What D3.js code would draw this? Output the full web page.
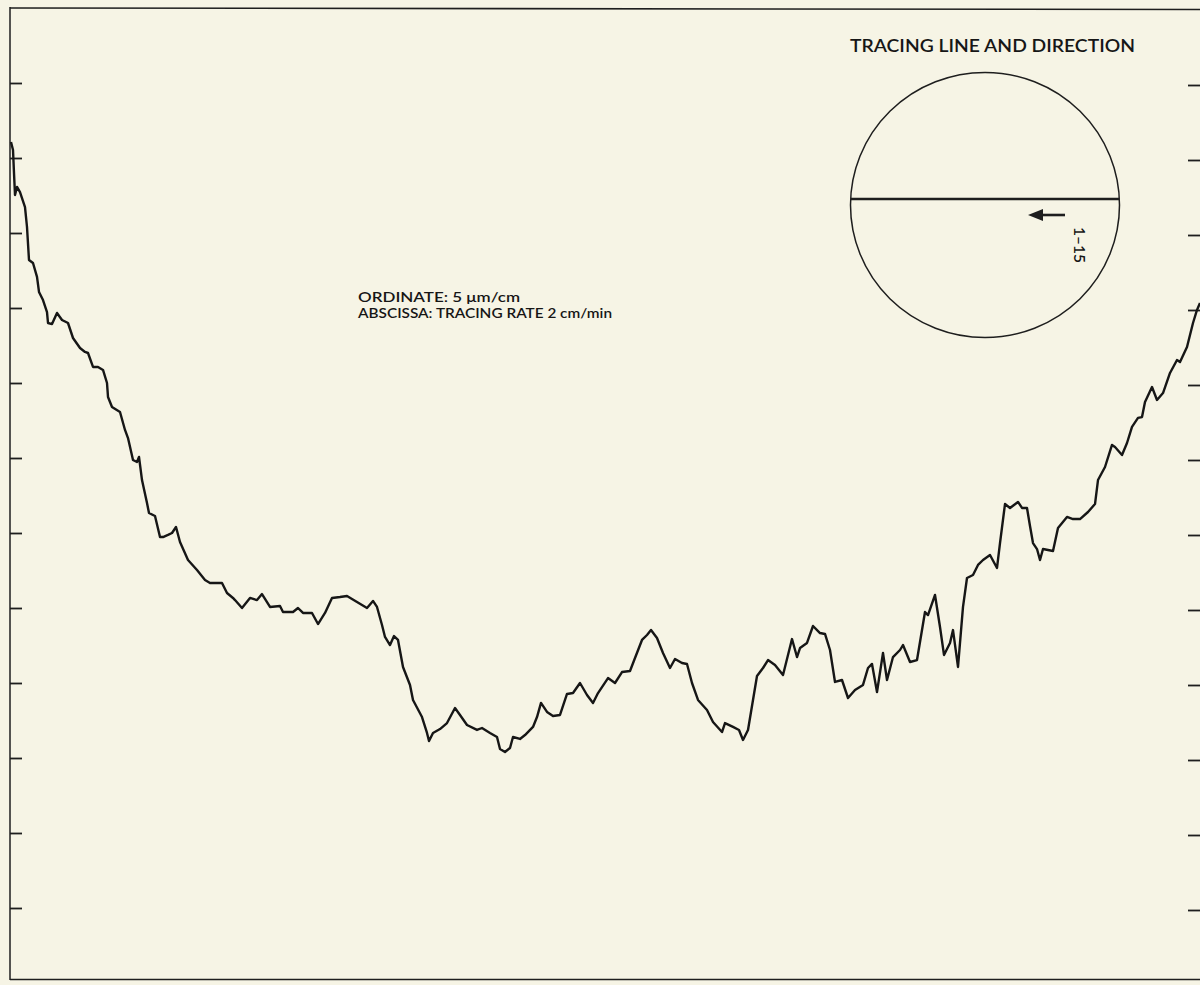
<!DOCTYPE html>
<html lang="en">
  <head>
    <meta charset="UTF-8" />
    <title>Surface trace 1-15</title>
    <script src="https://d3js.org/d3.v7.min.js"></script>
    <style>
      body {
        margin: 0;
        background-color: #f6f4e5;
      }
      svg {
        display: block;
        background-color: #f6f4e5;
      }
      .label {
        font-family: Lato, "Open Sans", sans-serif;
        font-weight: 600;
        fill: #161616;
      }
    </style>
  </head>
  <body>
    <svg width="1200" height="985"></svg>

    <script>
      const width = 1200;
      const height = 985;

      // trace position (s) and height (um)
      const traceT = [
        0.1, 0.3, 0.4, 0.5, 0.7, 1.0, 1.5, 1.7, 1.9, 2.3, 2.7, 2.9, 3.3, 3.7, 3.8, 4.2, 4.7, 5.2, 5.8, 6.3,
        7.0, 7.5, 7.8, 8.3, 8.8, 9.3, 9.7, 9.8, 10.2, 11.0, 11.5, 11.8, 12.3, 12.7, 12.9, 13.2, 13.7, 13.9, 14.5, 15.0,
        15.3, 15.8, 16.2, 16.6, 17.0, 17.8, 18.7, 19.5, 20.0, 21.2, 21.7, 22.3, 22.5, 23.2, 24.0, 24.7, 25.2, 26.0, 27.0, 27.3,
        28.3, 28.8, 29.3, 30.2, 30.8, 31.5, 32.2, 33.0, 33.7, 34.7, 35.7, 36.3, 36.7, 37.2, 37.5, 38.0, 38.4, 38.8, 39.3, 40.0,
        40.3, 41.2, 41.7, 41.9, 42.3, 43.0, 43.7, 44.5, 45.0, 45.7, 46.7, 47.2, 48.0, 48.7, 49.0, 49.5, 50.0, 50.3, 51.0, 51.5,
        52.3, 52.7, 53.1, 53.7, 54.3, 55.0, 55.7, 56.3, 57.0, 57.7, 58.3, 58.8, 59.8, 60.5, 61.2, 62.0, 62.5, 63.2, 63.7, 64.1,
        64.7, 65.3, 66.0, 66.5, 67.2, 67.7, 68.2, 68.8, 69.7, 70.3, 71.2, 71.5, 72.3, 72.9, 73.3, 73.8, 74.7, 75.3, 75.8, 76.5,
        77.3, 78.2, 78.7, 79.0, 79.7, 80.3, 81.0, 81.5, 82.0, 82.5, 83.2, 83.8, 84.5, 85.3, 85.8, 86.2, 86.7, 87.3, 87.7, 88.3,
        89.0, 89.3, 90.0, 90.7, 91.5, 91.8, 92.5, 93.0, 93.4, 94.0, 94.3, 94.8, 95.3, 95.7, 96.3, 96.8, 97.3, 98.0, 98.7, 99.0,
        99.5, 100.0, 100.8, 101.2, 101.7, 102.0, 102.3, 102.7, 103.0, 103.3, 104.3, 104.8, 105.7, 106.3, 107.0, 107.8, 108.5, 108.8, 109.5, 110.2,
        110.5, 111.2, 111.7, 112.2, 112.8, 113.2, 113.5, 114.2, 114.7, 115.3, 116.0, 116.7, 117.0, 117.7, 118.0, 118.3, 118.7, 119.0
      ];
      const traceUm = [
        56.07, 55.53, 54.0, 52.53, 53.07, 52.73, 51.73, 50.4, 48.2, 48.0, 47.07, 46.07, 45.53, 44.73, 44.0, 43.93, 44.67, 44.2, 44.0, 43.0,
        42.33, 42.07, 42.0, 41.07, 41.07, 40.87, 40.0, 39.07, 38.4, 38.07, 36.87, 36.33, 34.87, 34.73, 35.07, 33.53, 32.0, 31.33, 31.13, 29.73,
        29.73, 29.87, 30.0, 30.4, 29.4, 28.2, 27.53, 26.87, 26.67, 26.67, 26.0, 25.67, 25.53, 25.0, 25.67, 25.53, 25.93, 25.07, 25.13, 24.73,
        24.73, 25.0, 24.67, 24.67, 23.93, 24.67, 25.67, 25.73, 25.8, 25.4, 25.0, 25.47, 25.07, 23.87, 23.07, 22.53, 23.13, 22.87, 21.07, 19.87,
        18.87, 17.73, 16.67, 16.13, 16.67, 16.93, 17.33, 18.33, 17.87, 17.2, 16.87, 17.0, 16.67, 16.4, 15.6, 15.4, 15.67, 16.4, 16.27, 16.53,
        17.07, 17.73, 18.67, 18.07, 17.8, 17.87, 19.27, 19.33, 20.0, 19.2, 18.67, 19.33, 20.33, 20.0, 20.73, 20.8, 21.67, 22.87, 23.2, 23.53,
        23.0, 22.0, 21.0, 21.6, 21.33, 21.27, 20.0, 18.87, 18.2, 17.4, 16.73, 17.33, 17.07, 16.87, 16.2, 16.87, 20.47, 21.0, 21.53, 21.2,
        20.53, 22.93, 21.73, 22.33, 22.67, 23.8, 23.33, 23.27, 22.2, 20.07, 20.2, 19.0, 19.53, 19.87, 21.0, 21.27, 19.4, 22.0, 20.2, 21.73,
        22.2, 22.53, 21.4, 21.53, 24.73, 24.53, 25.87, 23.73, 21.87, 22.67, 23.53, 21.07, 25.07, 27.0, 27.2, 27.87, 28.2, 28.53, 27.67, 29.33,
        31.93, 31.67, 32.07, 31.67, 31.67, 30.47, 29.33, 28.93, 28.2, 28.93, 28.8, 30.33, 31.07, 30.93, 30.93, 31.4, 31.93, 33.53, 34.4, 35.87,
        35.73, 35.2, 36.0, 37.07, 37.67, 37.73, 38.73, 39.73, 38.87, 39.33, 40.67, 41.53, 41.4, 42.4, 43.2, 44.0, 44.87, 45.33
      ];

      const yTicks = [5, 10, 15, 20, 25, 30, 35, 40, 45, 50, 55, 60];

      const titleText = "TRACING LINE AND DIRECTION";
      const ordinateText = "ORDINATE:  5 \u03bcm/cm";
      const abscissaText = "ABSCISSA:  TRACING RATE 2 cm/min";
      const specimenText = "1\u201315";

      const svg = d3.select("svg");
      const ink = "#1e1e1e";

      const x = d3.scaleLinear().domain([0, 119]).range([10, 1200]);
      const y = d3.scaleLinear().domain([0, 65]).range([983, 8]);

      // frame
      svg.append("line").attr("x1", 10).attr("x2", 10).attr("y1", 7).attr("y2", 980)
        .attr("stroke", ink).attr("stroke-width", 1.5);
      svg.append("line").attr("x1", 10).attr("x2", 1200).attr("y1", 8).attr("y2", 9.5)
        .attr("stroke", ink).attr("stroke-width", 1.6);
      svg.append("line").attr("x1", 10).attr("x2", 1200).attr("y1", 979.5).attr("y2", 979.5)
        .attr("stroke", ink).attr("stroke-width", 1.6);

      // tick marks, pointing inward on both sides
      svg.append("g")
        .attr("transform", "translate(10,0)")
        .call(d3.axisRight(y).tickValues(yTicks).tickSize(12).tickSizeOuter(0).tickFormat(""));
      svg.append("g")
        .attr("transform", "translate(1200,2)")
        .call(d3.axisLeft(y).tickValues(yTicks).tickSize(12).tickSizeOuter(0).tickFormat(""));
      svg.selectAll(".domain").remove();
      svg.selectAll(".tick line").attr("stroke", ink).attr("stroke-width", 1.8);

      // the trace
      const points = traceT.map((t, i) => [t, traceUm[i]]);
      const line = d3.line().x((d) => x(d[0])).y((d) => y(d[1]));
      svg.append("path")
        .datum(points)
        .attr("d", line)
        .attr("fill", "none")
        .attr("stroke", "#161616")
        .attr("stroke-width", 2.4)
        .attr("stroke-linejoin", "round");

      // notes
      svg.append("text").attr("class", "label")
        .attr("x", 358).attr("y", 302)
        .attr("font-size", 14).attr("textLength", 162).attr("lengthAdjust", "spacingAndGlyphs")
        .text(ordinateText);
      svg.append("text").attr("class", "label")
        .attr("x", 358).attr("y", 318)
        .attr("font-size", 14).attr("textLength", 254).attr("lengthAdjust", "spacingAndGlyphs")
        .text(abscissaText);

      // inset: tracing line and direction
      const inset = svg.append("g");
      inset.append("text").attr("class", "label")
        .attr("x", 850).attr("y", 52)
        .attr("font-size", 17.5).attr("textLength", 285).attr("lengthAdjust", "spacingAndGlyphs")
        .text(titleText);
      inset.append("ellipse")
        .attr("cx", 985).attr("cy", 205).attr("rx", 134.5).attr("ry", 132.5)
        .attr("fill", "none").attr("stroke", ink).attr("stroke-width", 1.5);
      inset.append("line")
        .attr("x1", 850.6).attr("x2", 1119.4).attr("y1", 199).attr("y2", 199)
        .attr("stroke", ink).attr("stroke-width", 2.4);
      inset.append("line")
        .attr("x1", 1040).attr("x2", 1065).attr("y1", 215).attr("y2", 215)
        .attr("stroke", ink).attr("stroke-width", 2.6);
      inset.append("path")
        .attr("d", "M1028,215 L1043,209 L1043,221 Z")
        .attr("fill", ink);
      inset.append("text").attr("class", "label")
        .attr("transform", "translate(1074,227) rotate(90)")
        .attr("font-size", 15).attr("textLength", 36).attr("lengthAdjust", "spacingAndGlyphs")
        .text(specimenText);
    </script>
  </body>
</html>
